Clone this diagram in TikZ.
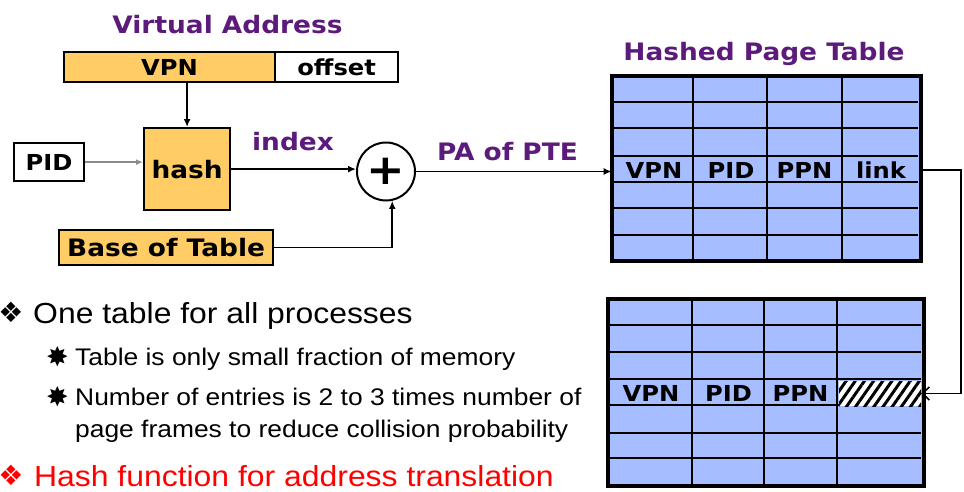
\documentclass[tikz,border=0pt]{standalone}
\usepackage{fontspec}
\setmainfont{Liberation Sans}[FakeStretch=1.1]
\newfontfamily\vsans{DejaVu Sans}[FakeStretch=1.1]
\newfontfamily\symfont{DejaVu Sans}
\usetikzlibrary{arrows.meta,fit,patterns.meta}

\definecolor{boxorange}{HTML}{FFCC66}
\definecolor{tblblue}{HTML}{A6BDFF}
\definecolor{headpurple}{HTML}{5C1A7A}
\definecolor{alertred}{HTML}{FF0000}
\definecolor{pidgray}{HTML}{8C8C8C}

\tikzset{
  lbl/.style={font=\vsans\bfseries\fontsize{22}{26}\selectfont, inner sep=0pt},
  heading/.style={font=\vsans\bfseries\fontsize{24}{28}\selectfont, inner sep=0pt, text=headpurple, anchor=base},
  box/.style={lbl, draw, line width=2.2pt},
  arr/.style={-{Latex[length=8pt,width=7pt]}, line width=1.6pt},
  tblframe/.style={draw, fill=tblblue, line width=2.6pt, inner sep=0pt},
  tblline/.style={line width=2.6pt},
  cell/.style={lbl},
  hatchcell/.style={minimum width=82pt, minimum height=25pt, inner sep=0pt},
  bigtext/.style={font=\fontsize{29}{34}\selectfont, inner sep=0pt, anchor=base west},
  smalltext/.style={font=\fontsize{24}{28}\selectfont, inner sep=0pt, anchor=base west},
  diamondmark/.style={font=\symfont\fontsize{28}{32}\selectfont, inner sep=0pt},
  starmark/.style={font=\symfont\fontsize{27}{30}\selectfont, inner sep=0pt},
}

\begin{document}
\begin{tikzpicture}[x=1pt, y=-1pt]
\useasboundingbox (0,0) rectangle (964,491);

% ---- virtual address and hashing ----
\node[heading] (vatitle) at (227.5,33) {Virtual Address};
\node[box, fill=boxorange, minimum width=211pt, minimum height=30pt, anchor=north west] (vpn) at (63,51) {VPN};
\node[box, fill=white, minimum width=123pt, minimum height=30pt, anchor=north west] (offset) at (274,51) {offset};

\node[box, fill=boxorange, minimum width=86pt, minimum height=82pt, anchor=north west] (hash) at (143,127) {\fontsize{24}{28}\selectfont hash};
\node[box, fill=white, minimum width=70pt, minimum height=38pt, anchor=north west] (pid) at (13,142) {PID};
\node[box, fill=boxorange, minimum width=214pt, minimum height=35pt, anchor=north west] (base) at (58,229) {\fontsize{24}{28}\selectfont Base of Table};

\node[draw, circle, line width=2pt, fill=white, minimum size=58pt, inner sep=0pt] (plus) at (386,171.5) {\vsans\bfseries\fontsize{42}{42}\selectfont +};

\node[heading] (idx) at (293,150) {index};
\node[heading] (pa) at (507.5,160) {PA of PTE};

\draw[arr] (hash.north |- vpn.south) -- (hash.north);
\draw[pidgray, line width=1.5pt, -{Latex[length=7pt,width=6pt]}] (pid.east) -- (pid.east -| hash.west);
\draw[arr] (hash.east) -- (hash.east -| plus.west);
\draw[arr] (base.east) -| (plus.-78);

% ---- first hashed page table ----
\node[heading] (hpt) at (764,60) {Hashed Page Table};
\node[tblframe, fit={(613,77) (920,260)}] (tableA) {};
\foreach \yy in {102,128,156,182,208,235} \draw[tblline] (613,\yy) -- (918,\yy);
\foreach \xx in {693,767,842} \draw[tblline] (\xx,77) -- (\xx,260);
\draw[line width=2.6pt] (tableA.north west) rectangle (tableA.south east);
\node[cell] (vpnA) at (654,170) {VPN};
\node[cell] (pidA) at (731,170) {PID};
\node[cell] (ppnA) at (804.5,170) {PPN};
\node[cell, minimum width=78pt, minimum height=26pt] (linkA) at (881,170) {link};

\draw[arr] (plus.east) -- (plus.east -| tableA.west);

% ---- chained entry in a second table ----
\node[tblframe, fit={(609,300) (923,485)}] (tableB) {};
\foreach \yy in {325,352,379,405,433,458} \draw[tblline] (609,\yy) -- (921,\yy);
\foreach \xx in {692,764,837} \draw[tblline] (\xx,300) -- (\xx,485);
\draw[line width=2.6pt] (tableB.north west) rectangle (tableB.south east);
\node[cell] (vpnB) at (651,393) {VPN};
\node[cell] (pidB) at (728.5,393) {PID};
\node[cell] (ppnB) at (800.5,393) {PPN};
\node[hatchcell, fill=white] (hatchB) at (880,393.5) {};
\node[hatchcell, pattern={Lines[angle=55,distance=7.5pt,line width=3pt]}] (hatchBlines) at (hatchB) {};

\coordinate (turn) at (961,170);
\draw[line width=1.6pt, -{Straight Barb[length=7pt,width=13pt]}] (linkA.east) -- (linkA.east -| turn) |- (hatchB.east);

% ---- bullet notes ----
\node[diamondmark] (d1) at (11,312) {❖};
\node[bigtext] (t1) at (33,323) {One table for all processes};
\node[starmark] (s1) at (57.5,357) {✸};
\node[smalltext] (t2) at (75,365) {Table is only small fraction of memory};
\node[starmark] (s2) at (57.5,397) {✸};
\node[smalltext] (t3) at (75,405) {Number of entries is 2 to 3 times number of};
\node[smalltext] (t4) at (75,437) {page frames to reduce collision probability};
\node[diamondmark, text=alertred] (d2) at (11,475) {❖};
\node[bigtext, text=alertred] (t5) at (34,486) {Hash function for address translation};
\end{tikzpicture}
\end{document}
